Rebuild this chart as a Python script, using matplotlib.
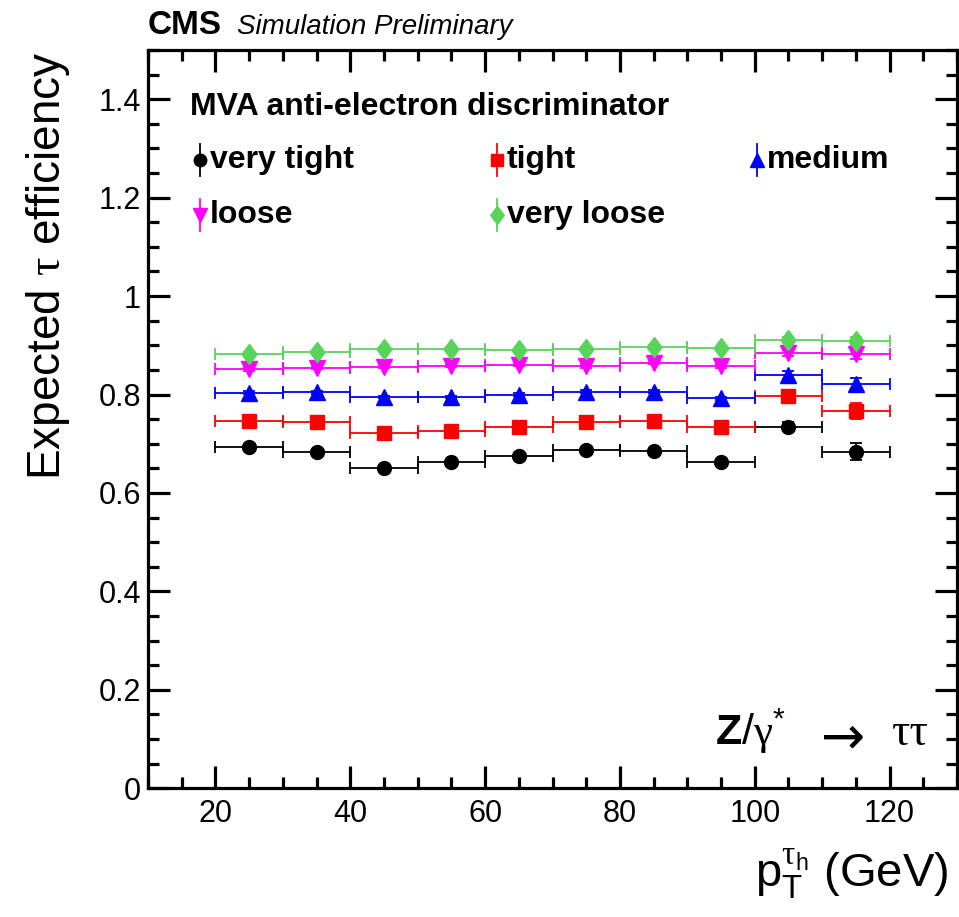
import matplotlib
matplotlib.use("Agg")
import matplotlib.pyplot as plt
from matplotlib.ticker import MultipleLocator, FixedLocator
import numpy as np

# ---- data: tau_h pT bins (GeV) and expected efficiencies per working point ----
bin_lo = [20, 30, 40, 50, 60, 70, 80, 90, 100, 110]
bin_hi = [30, 40, 50, 60, 70, 80, 90, 100, 110, 120]

eff_vtight = [0.694, 0.683, 0.651, 0.663, 0.676, 0.687, 0.686, 0.663, 0.735, 0.684]
err_vtight = [0.004, 0.004, 0.004, 0.004, 0.004, 0.004, 0.004, 0.004, 0.010, 0.017]
eff_tight = [0.747, 0.744, 0.722, 0.726, 0.734, 0.744, 0.746, 0.735, 0.797, 0.766]
err_tight = [0.004, 0.004, 0.004, 0.004, 0.004, 0.004, 0.004, 0.004, 0.010, 0.016]
eff_medium = [0.804, 0.805, 0.795, 0.795, 0.800, 0.806, 0.806, 0.792, 0.840, 0.821]
err_medium = [0.003, 0.003, 0.003, 0.003, 0.003, 0.003, 0.003, 0.003, 0.008, 0.012]
eff_loose = [0.851, 0.854, 0.856, 0.858, 0.860, 0.857, 0.865, 0.857, 0.884, 0.882]
err_loose = [0.003, 0.003, 0.003, 0.003, 0.003, 0.003, 0.003, 0.003, 0.006, 0.009]
eff_vloose = [0.883, 0.887, 0.893, 0.893, 0.890, 0.893, 0.897, 0.894, 0.911, 0.909]
err_vloose = [0.003, 0.003, 0.003, 0.003, 0.003, 0.003, 0.003, 0.003, 0.005, 0.008]

wp_labels = ["very tight", "tight", "medium", "loose", "very loose"]
legend_header = "MVA anti-electron discriminator"

x_ticks = [20, 40, 60, 80, 100, 120]
y_ticks = [0, 0.2, 0.4, 0.6, 0.8, 1.0, 1.2, 1.4]
y_ticklabels = ["0", "0.2", "0.4", "0.6", "0.8", "1", "1.2", "1.4"]

# ---- styles ----
fat_diamond = [(0, 1), (0.75, 0), (0, -1), (-0.75, 0), (0, 1)]
styles = [
    dict(color="black", marker="o", ms=10.0),
    dict(color="#ff0000", marker="s", ms=9.5),
    dict(color="#0000ff", marker="^", ms=11.5),
    dict(color="#ff00ff", marker="v", ms=11.5),
    dict(color="#5ad35a", marker=fat_diamond, ms=14.5),
]
series = [
    (eff_vtight, err_vtight),
    (eff_tight, err_tight),
    (eff_medium, err_medium),
    (eff_loose, err_loose),
    (eff_vloose, err_vloose),
]

plt.rcParams["font.family"] = ["Liberation Sans", "DejaVu Sans"]
plt.rcParams["mathtext.fontset"] = "custom"
plt.rcParams["mathtext.rm"] = "Liberation Sans"
plt.rcParams["mathtext.it"] = "Liberation Sans:italic"
plt.rcParams["mathtext.bf"] = "Liberation Sans:bold"
plt.rcParams["mathtext.sf"] = "Liberation Serif"

fig = plt.figure(figsize=(9.59, 9.17), dpi=100)
L, R, T, B = 148, 957, 50, 788.3
W, H = 959, 917
ax = fig.add_axes([L / W, 1 - B / H, (R - L) / W, (B - T) / H])

lo = np.array(bin_lo, dtype=float)
hi = np.array(bin_hi, dtype=float)
centers = 0.5 * (lo + hi)
half = 0.5 * (hi - lo)

for (vals, errs), st in zip(series, styles):
    ax.errorbar(centers, vals, xerr=half, yerr=errs, fmt="none",
                ecolor=st["color"], elinewidth=1.3,
                capsize=4.5, capthick=1.3, zorder=3)
    ax.plot(centers, vals, ls="none", marker=st["marker"], ms=st["ms"],
            color=st["color"], mec=st["color"], mfc=st["color"], zorder=4)

ax.set_xlim(10, 130)
ax.set_ylim(0, 1.5)
ax.xaxis.set_major_locator(FixedLocator(x_ticks))
ax.xaxis.set_minor_locator(MultipleLocator(5))
ax.yaxis.set_major_locator(FixedLocator(y_ticks))
ax.set_yticklabels(y_ticklabels)
ax.yaxis.set_minor_locator(MultipleLocator(0.05))

for sp in ax.spines.values():
    sp.set_linewidth(2.3)
ax.tick_params(which="both", direction="in", top=True, right=True, width=2.3)
ax.tick_params(which="major", length=16)
ax.tick_params(which="minor", length=8)
ax.tick_params(axis="x", which="major", labelsize=22, pad=8)
ax.tick_params(axis="y", which="major", labelsize=22, pad=5)

ax.set_ylabel(r"Expected $\mathsf{\tau}$ efficiency", fontsize=33, loc="top")
ax.yaxis.set_label_coords(-0.094, 0.998)
ax.set_xlabel(r"$\mathrm{p_{T}^{\mathsf{\tau}_{h}}}$ (GeV)", fontsize=34, loc="right")
ax.xaxis.set_label_coords(0.99, -0.08)

# CMS header
fig.text(L / W, 1 - 26 / H, "CMS", fontsize=24, fontweight="bold", va="center", ha="left")
fig.text(237 / W, 1 - 27 / H, "Simulation Preliminary", fontsize=20, style="italic",
         va="center", ha="left")

def fx(px):
    return (px - L) / (R - L)

def fy(py):
    return (B - py) / (B - T)

# process label
ax.text(fx(715), fy(745), r"$\mathbf{Z}/\mathsf{\gamma}^{*}$", transform=ax.transAxes,
        fontsize=31, ha="left", va="baseline")
ax.text(fx(843), fy(733), "\u2192", transform=ax.transAxes, fontsize=38,
        family=["DejaVu Sans"], ha="center", va="center_baseline")
ax.text(fx(929), fy(745), "\u03c4\u03c4", transform=ax.transAxes, fontsize=33,
        family="Liberation Serif", ha="right", va="baseline")

# legend, drawn in axes coordinates
ax.text(fx(190), fy(107), legend_header, transform=ax.transAxes, fontsize=23,
        fontweight="bold", ha="left", va="center")
entry_pos = [(200, 160), (497, 160), (757, 160), (200, 215), (497, 215)]
half_bar = 16 / (B - T)
for (px, py), st, lab in zip(entry_pos, styles, wp_labels):
    x0, y0 = fx(px), fy(py)
    ax.plot([x0, x0], [y0 - half_bar, y0 + half_bar], color=st["color"], lw=1.3,
            transform=ax.transAxes, clip_on=False)
    ax.plot([x0], [y0], marker=st["marker"], ms=st["ms"] * 0.9, color=st["color"],
            transform=ax.transAxes, clip_on=False, ls="none")
    ax.text(fx(px + 10), y0, lab, transform=ax.transAxes, fontsize=23,
            fontweight="bold", ha="left", va="center")

fig.savefig("out.png", dpi=100)
